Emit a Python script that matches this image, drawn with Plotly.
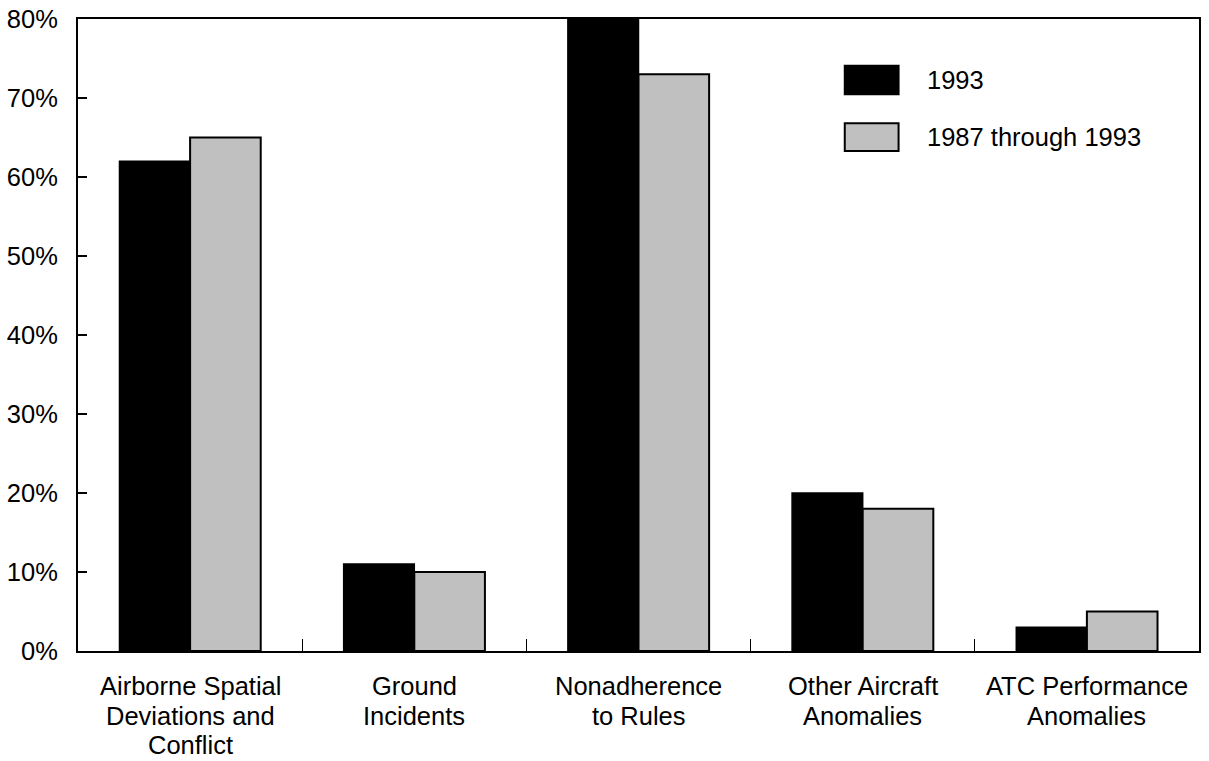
import plotly.graph_objects as go

categories = [
    "Airborne Spatial<br>Deviations and<br>Conflict",
    "Ground<br>Incidents",
    "Nonadherence<br>to Rules",
    "Other Aircraft<br>Anomalies",
    "ATC Performance<br>Anomalies",
]
series_names = ["1993", "1987 through 1993"]
values_1993 = [62, 11, 80, 20, 3]
values_1987_1993 = [65, 10, 73, 18, 5]
y_tick_vals = [0, 10, 20, 30, 40, 50, 60, 70, 80]
y_tick_text = ["0%", "10%", "20%", "30%", "40%", "50%", "60%", "70%", "80%"]

FONT = "Liberation Sans, Arial, sans-serif"
FS = 25.5

fig = go.Figure()
fig.add_trace(go.Bar(
    x=categories, y=values_1993, name=series_names[0],
    marker=dict(color="#000000", line=dict(color="#000000", width=1.5)),
    showlegend=False,
))
fig.add_trace(go.Bar(
    x=categories, y=values_1987_1993, name=series_names[1],
    marker=dict(color="#c0c0c0", line=dict(color="#000000", width=2)),
    showlegend=False,
))

# category labels: one annotation per text line (tighter line spacing than tick labels)
line_y = [-0.0554, -0.1021, -0.1487]
for cat in categories:
    for i, line in enumerate(cat.split("<br>")):
        fig.add_annotation(xref="x", yref="paper", x=cat, y=line_y[i],
                           text=line, showarrow=False, xanchor="center",
                           yanchor="middle",
                           font=dict(size=FS, color="#000000", family=FONT))

# legend drawn as boxes + labels
legend_items = [
    (series_names[0], "#000000", 0.881, 0.926, 0.903),
    (series_names[1], "#c0c0c0", 0.791, 0.835, 0.813),
]
for name, col, y0, y1, yt in legend_items:
    fig.add_shape(type="rect", xref="paper", yref="paper",
                  x0=0.684, x1=0.732, y0=y0, y1=y1,
                  fillcolor=col, line=dict(color="#000000", width=2))
    fig.add_annotation(xref="paper", yref="paper", x=0.756, y=yt,
                       text=name, showarrow=False, xanchor="left",
                       yanchor="middle", font=dict(size=FS, color="#000000", family=FONT))

fig.update_layout(
    width=1209, height=761,
    margin=dict(l=78, r=10, t=19, b=110, autoexpand=False),
    paper_bgcolor="white", plot_bgcolor="white",
    barmode="group", bargap=0.37, bargroupgap=0,
    font=dict(family=FONT, size=FS, color="#000000"),
)
fig.update_xaxes(
    showline=True, linecolor="#000000", linewidth=2, mirror=True,
    ticks="inside", tickson="boundaries", ticklen=12, tickwidth=1, tickcolor="#000000",
    showgrid=False, showticklabels=False, automargin=False,
)
fig.update_yaxes(
    range=[0, 80], tickmode="array", tickvals=y_tick_vals, ticktext=y_tick_text,
    showline=True, linecolor="#000000", linewidth=2, mirror=True,
    ticks="inside", ticklen=9, tickwidth=1.5, tickcolor="#000000",
    showgrid=False, zeroline=False, ticklabelstandoff=13, automargin=False,
    ticklabeloverflow="allow",
    tickfont=dict(size=FS, family=FONT, color="#000000"),
)

fig.write_html(
    "out.html",
    config={"displayModeBar": False},
    post_script="document.body.style.margin='0';document.body.style.overflow='hidden';",
)
